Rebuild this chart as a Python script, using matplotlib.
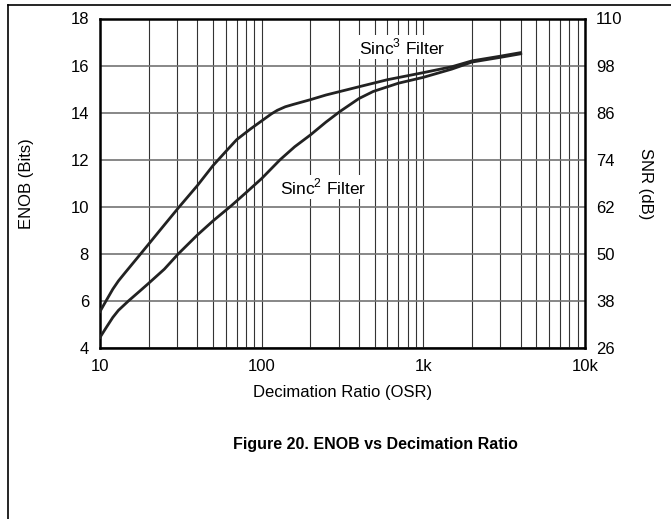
import matplotlib
matplotlib.use("Agg")
import matplotlib.pyplot as plt
from matplotlib.lines import Line2D
from matplotlib.ticker import FixedLocator, NullFormatter

plt.rcParams['font.family'] = ['Liberation Sans', 'DejaVu Sans']
plt.rcParams['mathtext.fontset'] = 'custom'
plt.rcParams['mathtext.rm'] = 'Liberation Sans'

# Data
sinc3_osr = [10, 11, 12, 13, 14.3, 17.5, 20.7, 24, 30.5, 40, 50, 60, 70, 85, 100, 115, 125, 140, 157,
             200, 250, 400, 600, 1000, 1500, 2000, 3000, 4000]
sinc3_enob = [5.55, 6.05, 6.5, 6.85, 7.2, 7.93, 8.54, 9.08, 9.95, 10.9, 11.75, 12.35, 12.85, 13.3, 13.65,
              13.95, 14.1, 14.25, 14.35, 14.55, 14.75, 15.1, 15.4, 15.7, 15.95, 16.2, 16.4, 16.55]

sinc2_osr = [10, 11, 12, 13, 15, 17.5, 20, 25, 30.5, 40, 50, 65, 80, 100, 130, 160, 200, 250, 305,
             400, 490, 700, 1000, 1500, 2000, 3000, 4000]
sinc2_enob = [4.45, 4.9, 5.3, 5.6, 6.0, 6.4, 6.75, 7.35, 8.0, 8.8, 9.4, 10.05, 10.6, 11.2, 12.0,
              12.55, 13.05, 13.6, 14.05, 14.6, 14.9, 15.25, 15.5, 15.85, 16.15, 16.35, 16.5]

x_ticks = [10, 100, 1000, 10000]
x_labels = ["10", "100", "1k", "10k"]
y_ticks = [4, 6, 8, 10, 12, 14, 16, 18]
snr_labels = ["26", "38", "50", "62", "74", "86", "98", "110"]

fig = plt.figure(figsize=(6.71, 5.19), dpi=100)
ax = fig.add_axes([100/671, 1-348/519, 485/671, (348-18.5)/519])

ax.set_xscale('log')
ax.set_xlim(10, 10000)
ax.set_ylim(4, 18)

minor = [m * d for d in (10, 100, 1000) for m in range(2, 10)]
ax.xaxis.set_minor_locator(FixedLocator(minor))
ax.xaxis.set_minor_formatter(NullFormatter())
ax.set_xticks(x_ticks)
ax.set_xticklabels(x_labels)
ax.set_yticks(y_ticks)
ax.set_yticklabels([str(v) for v in y_ticks])

ax.grid(True, which='both', axis='x', color='0.2', lw=0.8)
ax.grid(True, which='major', axis='y', color='0.45', lw=1.2)
ax.tick_params(which='both', length=0, labelsize=12, pad=8)
for s in ax.spines.values():
    s.set_linewidth(1.8)
    s.set_color('black')

ax.plot(sinc3_osr, sinc3_enob, color='#222222', lw=2.0, zorder=3)
ax.plot(sinc2_osr, sinc2_enob, color='#222222', lw=2.0, zorder=3)

ax.text(740, 16.79, r"Sinc$^{3}$ Filter", ha='center', va='center', fontsize=12.5,
        bbox=dict(facecolor='white', edgecolor='none', pad=1.5), zorder=4)
ax.text(240, 10.84, r"Sinc$^{2}$ Filter", ha='center', va='center', fontsize=12.5,
        bbox=dict(facecolor='white', edgecolor='none', pad=1.5), zorder=4)

ax.set_xlabel("Decimation Ratio (OSR)", fontsize=12, labelpad=8)
ax.set_ylabel("ENOB (Bits)", fontsize=12, labelpad=26)

ax2 = ax.twinx()
ax2.set_ylim(4, 18)
ax2.set_yticks(y_ticks)
ax2.set_yticklabels(snr_labels)
ax2.tick_params(length=0, labelsize=12, pad=8)
for s in ax2.spines.values():
    s.set_visible(False)
ax2.set_ylabel("SNR (dB)", fontsize=12, rotation=-90, labelpad=22)

fig.text(375/671, 1-445/519, "Figure 20. ENOB vs Decimation Ratio", ha='center', va='center',
         fontsize=11.5, fontweight='bold')

fig.add_artist(Line2D([8/671, 1.0], [1-5/519, 1-5/519], color='black', lw=1.2, transform=fig.transFigure))
fig.add_artist(Line2D([8/671, 8/671], [0.0, 1-5/519], color='black', lw=1.2, transform=fig.transFigure))

fig.savefig("out.png", dpi=100)
